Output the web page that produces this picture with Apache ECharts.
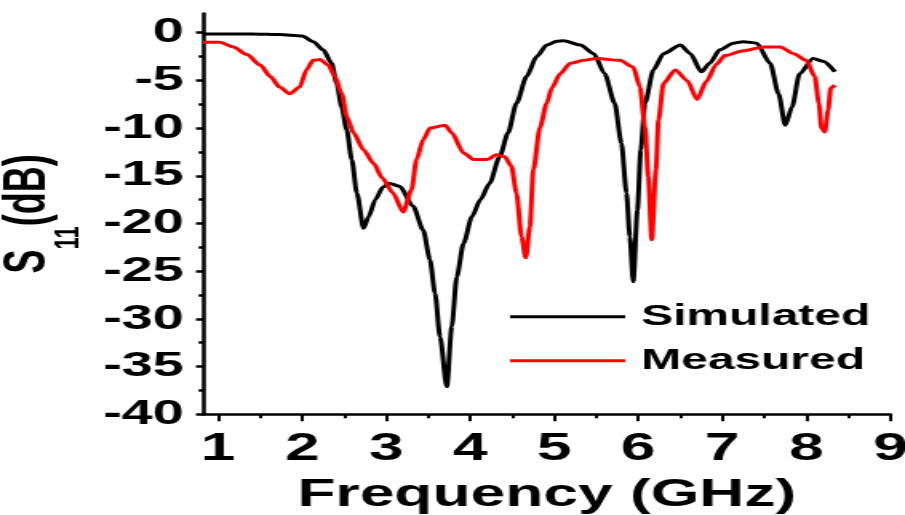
<!DOCTYPE html>
<html>
<head>
<meta charset="utf-8">
<script src="https://cdn.jsdelivr.net/npm/echarts@6/dist/echarts.min.js"></script>
<style>
  html, body { margin: 0; padding: 0; background: #fff; overflow: hidden; }
  /* the plot is laid out narrow and widened to 905 px, giving the broad lettering */
  #chart { width: 566px; height: 515px; transform: scaleX(1.59894); transform-origin: 0 0; }
</style>
</head>
<body>
<div id="chart"></div>
<script>
// Return loss S11 (dB) against frequency (GHz)
const simFreq = [0.82, 1.0, 1.4, 1.73, 2.0, 2.13, 2.25, 2.35, 2.41, 2.47, 2.53, 2.59, 2.65, 2.73, 2.79,
  2.87, 2.96, 3.04, 3.16, 3.32, 3.44, 3.52, 3.58, 3.64, 3.72, 3.78, 3.84, 3.92, 4.02, 4.12, 4.23,
  4.35, 4.45, 4.55, 4.67, 4.79, 4.91, 5.03, 5.11, 5.31, 5.47, 5.60, 5.72, 5.80, 5.86, 5.90, 5.94,
  5.99, 6.03, 6.08, 6.18, 6.30, 6.50, 6.62, 6.75, 6.85, 6.97, 7.13, 7.25, 7.41, 7.57, 7.67, 7.75,
  7.83, 7.92, 8.08, 8.20, 8.34];
const simDb = [-0.15, -0.15, -0.15, -0.2, -0.35, -0.94, -1.8, -3.2, -5.3, -7.8, -10.2, -13.3, -16.8, -20.5, -19.3,
  -17.5, -16.2, -15.8, -16.1, -18.2, -20.7, -23.8, -27.3, -31.9, -37.1, -30.8, -25.6, -22.1, -19.3, -17.5, -15.8,
  -13.0, -10.5, -7.4, -4.6, -2.5, -1.3, -0.9, -0.84, -1.3, -2.2, -4.3, -7.4, -11.6, -16.8, -21.4, -26.1,
  -18.6, -12.3, -7.4, -3.9, -2.2, -1.3, -2.2, -4.1, -3.2, -1.8, -1.1, -0.94, -1.1, -3.2, -6.4, -9.7,
  -7.8, -4.3, -2.7, -3.0, -4.1];

const measFreq = [0.82, 1.02, 1.18, 1.34, 1.50, 1.62, 1.73, 1.85, 1.97, 2.05, 2.13, 2.21, 2.31, 2.39, 2.47,
  2.53, 2.61, 2.73, 2.85, 2.95, 3.08, 3.20, 3.30, 3.36, 3.44, 3.52, 3.70, 3.78, 3.92, 4.04, 4.20,
  4.31, 4.41, 4.49, 4.55, 4.61, 4.66, 4.71, 4.75, 4.83, 4.91, 4.97, 5.07, 5.19, 5.35, 5.50, 5.78,
  5.94, 6.02, 6.08, 6.12, 6.16, 6.21, 6.24, 6.30, 6.44, 6.58, 6.70, 6.81, 6.93, 7.03, 7.25, 7.49,
  7.69, 7.85, 8.00, 8.10, 8.15, 8.18, 8.22, 8.26, 8.29, 8.34];
const measDb = [-1.0, -1.0, -1.5, -2.3, -3.4, -4.6, -5.7, -6.4, -5.7, -3.9, -2.9, -2.8, -3.4, -4.6, -6.4,
  -8.8, -10.5, -12.3, -13.7, -15.2, -16.8, -18.8, -16.5, -13.3, -11.2, -10.0, -9.7, -10.5, -12.6, -13.3, -13.3,
  -12.8, -13.0, -14.0, -16.8, -21.4, -23.6, -20.3, -14.4, -9.9, -7.4, -5.8, -4.3, -3.2, -2.9, -2.7, -2.9,
  -3.6, -5.7, -9.9, -15.1, -21.7, -14.4, -9.2, -5.3, -3.9, -5.0, -7.0, -5.1, -3.3, -2.4, -1.9, -1.5,
  -1.5, -2.2, -2.9, -4.6, -7.4, -10.0, -10.4, -8.1, -5.8, -5.5];

// Axis ticks
const freqTicks = [1, 2, 3, 4, 5, 6, 7, 8, 9];
const freqMinorTicks = [1.5, 2.5, 3.5, 4.5, 5.5, 6.5, 7.5, 8.5];
const dbTicks = [-40, -35, -30, -25, -20, -15, -10, -5, 0];
const dbMinorTicks = [-37.5, -32.5, -27.5, -22.5, -17.5, -12.5, -7.5, -2.5];

const FONT = '"Liberation Sans", Arial, sans-serif';
const pairs = (xs, ys) => xs.map((x, i) => [x, ys[i]]);

const chart = echarts.init(document.getElementById('chart'), null, { renderer: 'canvas' });

const baseX = { type: 'value', min: 0.82, max: 9, position: 'bottom', splitLine: { show: false } };
const baseY = { type: 'value', min: -40, max: 2, position: 'left', splitLine: { show: false } };

chart.setOption({
  animation: false,
  backgroundColor: '#fff',
  grid: { left: 127, right: 9.2, top: 13.6, bottom: 100.7, containLabel: false, outerBoundsMode: 'none' },
  xAxis: [
    Object.assign({}, baseX, {
      axisLine: { show: true, onZero: false, lineStyle: { color: '#000', width: 2.5 } },
      axisTick: { show: true, customValues: freqTicks, length: 7, lineStyle: { color: '#000', width: 2 } },
      axisLabel: { customValues: freqTicks, margin: 15, fontSize: 39, fontWeight: 'bold', fontFamily: FONT, color: '#000' },
      name: 'Frequency (GHz)',
      nameLocation: 'middle',
      nameGap: 61,
      nameTextStyle: { fontSize: 39, fontWeight: 'bold', fontFamily: FONT, color: '#000' }
    }),
    Object.assign({}, baseX, {
      axisLine: { show: false, onZero: false },
      axisTick: { show: true, customValues: freqMinorTicks, length: 4, lineStyle: { color: '#000', width: 2 } },
      axisLabel: { show: false }
    })
  ],
  yAxis: [
    Object.assign({}, baseY, {
      axisLine: { show: true, onZero: false, lineStyle: { color: '#000', width: 2.5 } },
      axisTick: { show: true, customValues: dbTicks, length: 4.4, lineStyle: { color: '#000', width: 2.5 } },
      axisLabel: { customValues: dbTicks, margin: 12, fontSize: 35, fontWeight: 'bold', fontFamily: FONT, color: '#000' },
      name: '{s|S}{sub|11}{s|(dB)}',
      nameLocation: 'middle',
      nameGap: 55,
      nameTextStyle: {
        color: '#000',
        rich: {
          s: { fontSize: 36, lineHeight: 36, fontWeight: 'bold', fontFamily: FONT, color: '#000' },
          sub: { fontSize: 22, lineHeight: 22, fontWeight: 'bold', fontFamily: FONT, color: '#000', padding: [48, 0, 0, 0] }
        }
      }
    }),
    Object.assign({}, baseY, {
      axisLine: { show: false, onZero: false },
      axisTick: { show: true, customValues: dbMinorTicks, length: 2.8, lineStyle: { color: '#000', width: 2.5 } },
      axisLabel: { show: false }
    })
  ],
  legend: {
    orient: 'vertical',
    left: 319,
    top: 301.7,
    padding: 0,
    icon: 'rect',
    itemWidth: 72,
    itemHeight: 3,
    itemGap: 14,
    textStyle: { fontSize: 30, lineHeight: 30, fontWeight: 'bold', fontFamily: FONT, color: '#000', padding: [0, 0, 0, 5] },
    data: ['Simulated', 'Measured']
  },
  series: [
    {
      name: 'Simulated', type: 'line', xAxisIndex: 0, yAxisIndex: 0,
      data: pairs(simFreq, simDb),
      symbol: 'none', smooth: 0.25, smoothMonotone: 'x',
      lineStyle: { color: '#000', width: 3 }, itemStyle: { color: '#000' }
    },
    {
      name: 'Measured', type: 'line', xAxisIndex: 0, yAxisIndex: 0,
      data: pairs(measFreq, measDb),
      symbol: 'none', smooth: 0.25, smoothMonotone: 'x',
      lineStyle: { color: '#ff0000', width: 3 }, itemStyle: { color: '#ff0000' }
    }
  ]
});
</script>
</body>
</html>
